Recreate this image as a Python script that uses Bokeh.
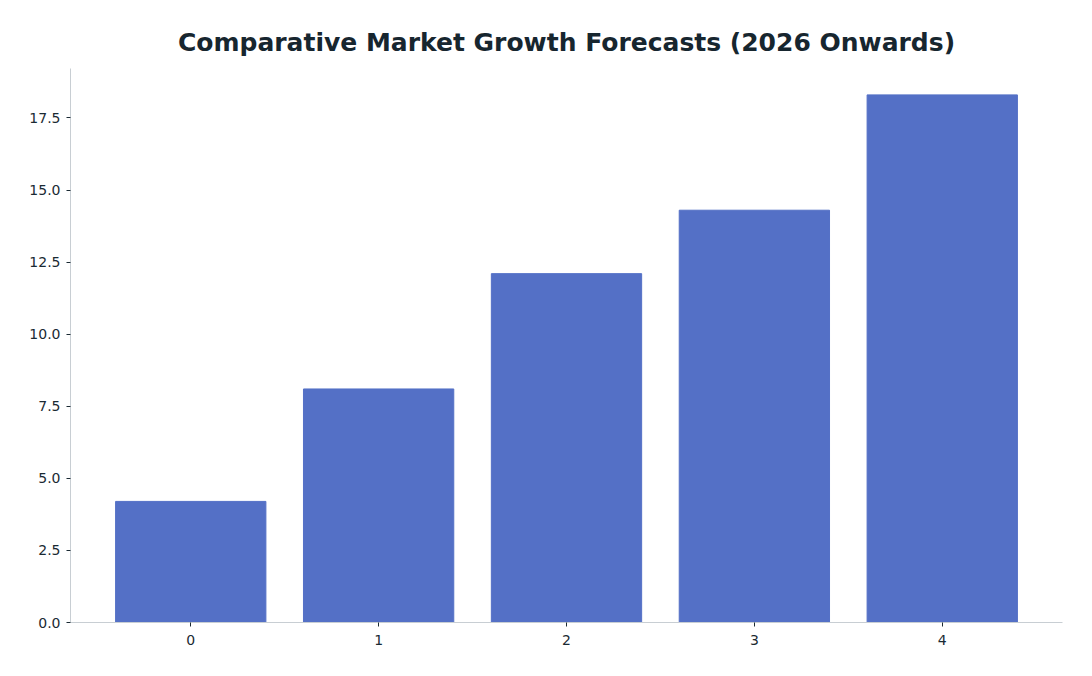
import numpy as np
from bokeh.plotting import figure
from bokeh.models import SingleIntervalTicker, NumeralTickFormatter, Range1d
from bokeh.embed import file_html
from bokeh.resources import INLINE

# market growth forecast per scenario index
positions = [0, 1, 2, 3, 4]
growth = [4.2, 8.1, 12.1, 14.3, 18.3]

p = figure(width=1092, height=676, output_backend="svg", toolbar_location=None,
           title="Comparative Market Growth Forecasts (2026 Onwards)",
           min_border_left=70, min_border_right=30, min_border_top=68, min_border_bottom=54)

p.vbar(x=positions, top=growth, width=0.8, color="#5470c6")

p.x_range = Range1d(-0.64, 4.64)
p.y_range = Range1d(0, max(growth) * 1.05)

p.title.align = "center"
p.title.text_font = "DejaVu Sans"
p.title.text_font_size = "25px"
p.title.text_font_style = "bold"
p.title.text_color = "#17262f"
p.title.standoff = 23

p.xgrid.visible = False
p.ygrid.visible = False
p.outline_line_color = None

p.xaxis.ticker = SingleIntervalTicker(interval=1)
p.yaxis.ticker = SingleIntervalTicker(interval=2.5)
p.yaxis.formatter = NumeralTickFormatter(format="0.0")

for ax in (p.xaxis, p.yaxis):
    ax.axis_line_color = "#c8ced3"
    ax.major_tick_line_color = "#1a2a33"
    ax.major_tick_in = 0
    ax.major_tick_out = 4
    ax.minor_tick_line_color = None
    ax.major_label_text_font = "DejaVu Sans"
    ax.major_label_text_font_size = "14px"
    ax.major_label_text_color = "#1a2a33"
    ax.major_label_standoff = 6
p.xaxis.major_label_standoff = 8

open("out.html", "w").write(file_html(p, INLINE))
